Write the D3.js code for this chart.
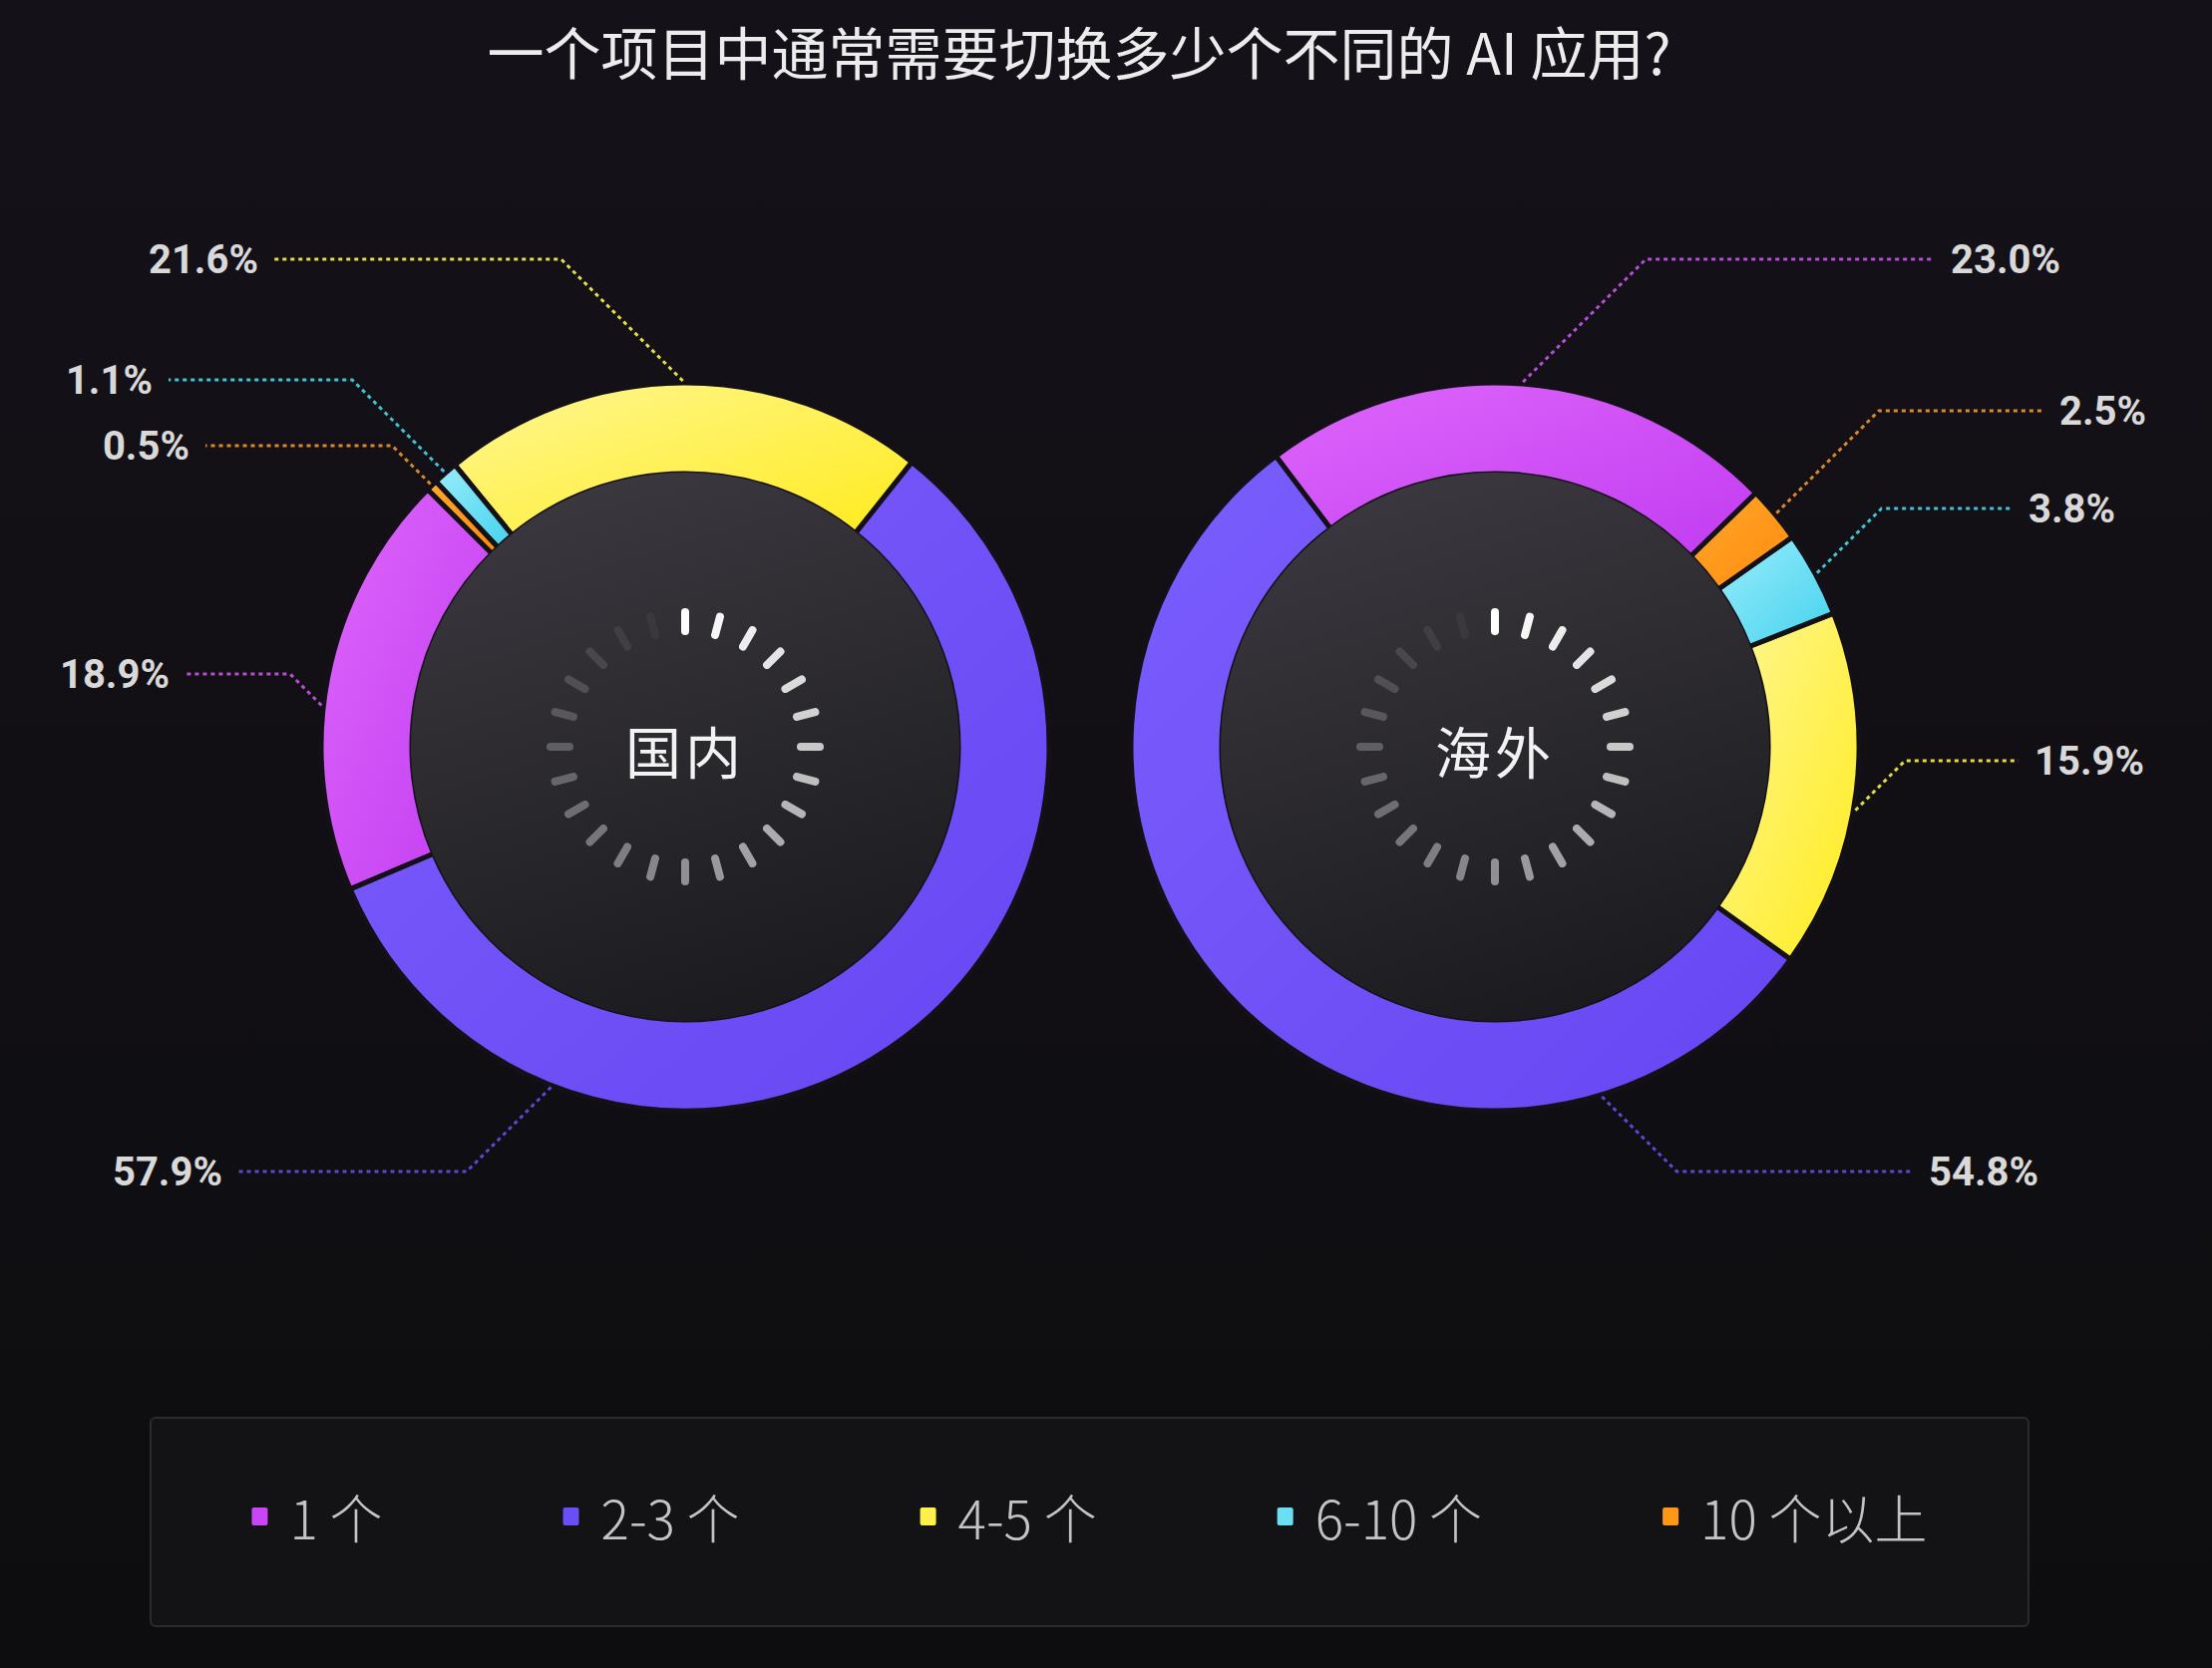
<!DOCTYPE html>
<html>
<head>
<meta charset="utf-8">
<script src="https://cdn.jsdelivr.net/npm/d3@7"></script>
<style>
  body { margin: 0; background: #0f0e12; }
  svg { display: block; }
</style>
</head>
<body>
<script>
// ---- data ----
var categories = ["1 个", "2-3 个", "4-5 个", "6-10 个", "10 个以上"];
var groups = ["国内", "海外"];
var domestic = [18.9, 57.9, 21.6, 1.1, 0.5];
var overseas = [23.0, 54.8, 15.9, 3.8, 2.5];
var title = "一个项目中通常需要切换多少个不同的 AI 应用?";

// ---- styles / layout ----
var W = 2218, H = 1673;
var sliceColors = [["#de66fb", "#c13cf1"], ["#7b5efd", "#6646f2"], ["#fff795", "#ffeb1c"], ["#9aedfb", "#44d2ee"], ["#ffa82c", "#ff8a0c"]];
var legendColors = ["#c846f5", "#6b4ff6", "#fff04a", "#6adff4", "#ff9616"];
var lineColors = ["#b34fd6", "#5d47d6", "#e4dc42", "#3fc4d4", "#db882a"];

var rOuter = 365, rInner = 274;
// per donut: center, start angle (deg, drawn counter-clockwise), label side
var donuts = [
  { name: groups[0], values: domestic, cx: 687, cy: 749, start: -45, side: -1,
    // per slice: label y, text x, optional anchor angle
    labels: [{ y: 676, x: 170, a: 276.5 }, { y: 1175, x: 223, a: 201.5 }, { y: 260, x: 259 }, { y: 381, x: 153 }, { y: 447, x: 190 }] },
  { name: groups[1], values: overseas, cx: 1499, cy: 749, start: 45.8, side: 1,
    labels: [{ y: 260, x: 1956 }, { y: 1175, x: 1934, a: 163 }, { y: 763, x: 2040, a: 100 }, { y: 510, x: 2034 }, { y: 412, x: 2065 }] }
];

var svg = d3.select("body").append("svg")
  .attr("width", W).attr("height", H);

var defs = svg.append("defs");
var bg = defs.append("linearGradient").attr("id", "bg")
  .attr("x1", 0).attr("y1", 0).attr("x2", 0).attr("y2", 1);
bg.append("stop").attr("offset", 0).attr("stop-color", "#151119");
bg.append("stop").attr("offset", 1).attr("stop-color", "#0d0d0f");

var disc = defs.append("linearGradient").attr("id", "disc")
  .attr("x1", 0.3).attr("y1", 0).attr("x2", 0.6).attr("y2", 1);
disc.append("stop").attr("offset", 0).attr("stop-color", "#3b393f");
disc.append("stop").attr("offset", 1).attr("stop-color", "#1b1a1e");

sliceColors.forEach(function(c, i) {
  var g = defs.append("linearGradient").attr("id", "s" + i)
    .attr("x1", 0).attr("y1", 0).attr("x2", 1).attr("y2", 1);
  g.append("stop").attr("offset", 0).attr("stop-color", c[0]);
  g.append("stop").attr("offset", 1).attr("stop-color", c[1]);
});

svg.append("rect").attr("width", W).attr("height", H).attr("fill", "url(#bg)");

// title
svg.append("text")
  .attr("x", 1082).attr("y", 50)
  .attr("text-anchor", "middle").attr("dominant-baseline", "central")
  .attr("font-family", "'Noto Sans CJK SC', sans-serif")
  .attr("font-size", 57).attr("fill", "#ececec")
  .text(title);

var arc = d3.arc().innerRadius(rInner).outerRadius(rOuter);
var rad = Math.PI / 180;

donuts.forEach(function(dn) {
  var pie = d3.pie().sort(null).value(function(d) { return d; })
    .startAngle(dn.start * rad).endAngle(dn.start * rad - 2 * Math.PI);
  var arcs = pie(dn.values);
  var g = svg.append("g").attr("transform", "translate(" + dn.cx + "," + dn.cy + ")");

  g.selectAll("path.slice").data(arcs).enter().append("path")
    .attr("class", "slice")
    .attr("d", arc)
    .attr("fill", function(d, i) { return "url(#s" + i + ")"; })
    .attr("stroke", "#131117").attr("stroke-width", 5);

  g.append("circle").attr("r", rInner + 1).attr("fill", "url(#disc)");

  // spinner ticks
  d3.range(24).forEach(function(i) {
    var a = i * 15 * rad;
    g.append("line")
      .attr("x1", 116 * Math.sin(a)).attr("y1", -116 * Math.cos(a))
      .attr("x2", 135 * Math.sin(a)).attr("y2", -135 * Math.cos(a))
      .attr("stroke", "#ffffff").attr("stroke-width", 8).attr("stroke-linecap", "round")
      .attr("opacity", Math.max(0.04, 1 - i / 23 * 0.97));
  });

  g.append("text")
    .attr("text-anchor", "middle").attr("dominant-baseline", "central")
    .attr("y", 2)
    .attr("font-family", "'Noto Sans CJK SC', sans-serif")
    .attr("font-size", 56).attr("fill", "#f2f2f2").attr("letter-spacing", 4)
    .text(dn.name);

  // leader lines + labels
  arcs.forEach(function(d, i) {
    var lb = dn.labels[i];
    var ang = lb.a != null ? lb.a * rad : (d.startAngle + d.endAngle) / 2;
    var ax = dn.cx + (rOuter + 2) * Math.sin(ang);
    var ay = dn.cy - (rOuter + 2) * Math.cos(ang);
    var ex = ax + dn.side * Math.abs(lb.y - ay);
    var lx = lb.x - dn.side * 16;
    svg.append("path")
      .attr("d", "M" + ax + "," + ay + "L" + ex + "," + lb.y + "L" + lx + "," + lb.y)
      .attr("fill", "none").attr("stroke", lineColors[i])
      .attr("stroke-width", 3).attr("stroke-dasharray", "4 4");
    svg.append("text")
      .attr("x", lb.x).attr("y", lb.y)
      .attr("text-anchor", dn.side < 0 ? "end" : "start")
      .attr("dominant-baseline", "central")
      .attr("font-family", "Roboto, 'Liberation Sans', sans-serif")
      .attr("font-weight", 700).attr("font-size", 40)
      .attr("fill", "#d9d9d9")
      .text(d.data.toFixed(1) + "%");
  });
});

// legend
var box = { x: 151, y: 1422, w: 1883, h: 209 };
svg.append("rect")
  .attr("x", box.x).attr("y", box.y).attr("width", box.w).attr("height", box.h)
  .attr("rx", 5).attr("fill", "#131315").attr("stroke", "#2b2b2e").attr("stroke-width", 2);

var leg = svg.append("g");
var items = leg.selectAll("g").data(categories).enter().append("g");
items.append("rect")
  .attr("x", 0).attr("y", -9).attr("width", 16).attr("height", 18).attr("rx", 2)
  .attr("fill", function(d, i) { return legendColors[i]; });
items.append("text")
  .attr("x", 38).attr("y", 0).attr("dominant-baseline", "central")
  .attr("font-family", "'Noto Sans CJK SC', sans-serif")
  .attr("font-weight", 300).attr("font-size", 53).attr("fill", "#c4c4c4")
  .text(function(d) { return d; });

var gap = 181, pos = 0, xs = [];
items.each(function() {
  xs.push(pos);
  pos += this.getBBox().width + gap;
});
var total = pos - gap;
var x0 = box.x + (box.w - total) / 2;
items.attr("transform", function(d, i) { return "translate(" + (x0 + xs[i]) + "," + 1521 + ")"; });
</script>
</body>
</html>
